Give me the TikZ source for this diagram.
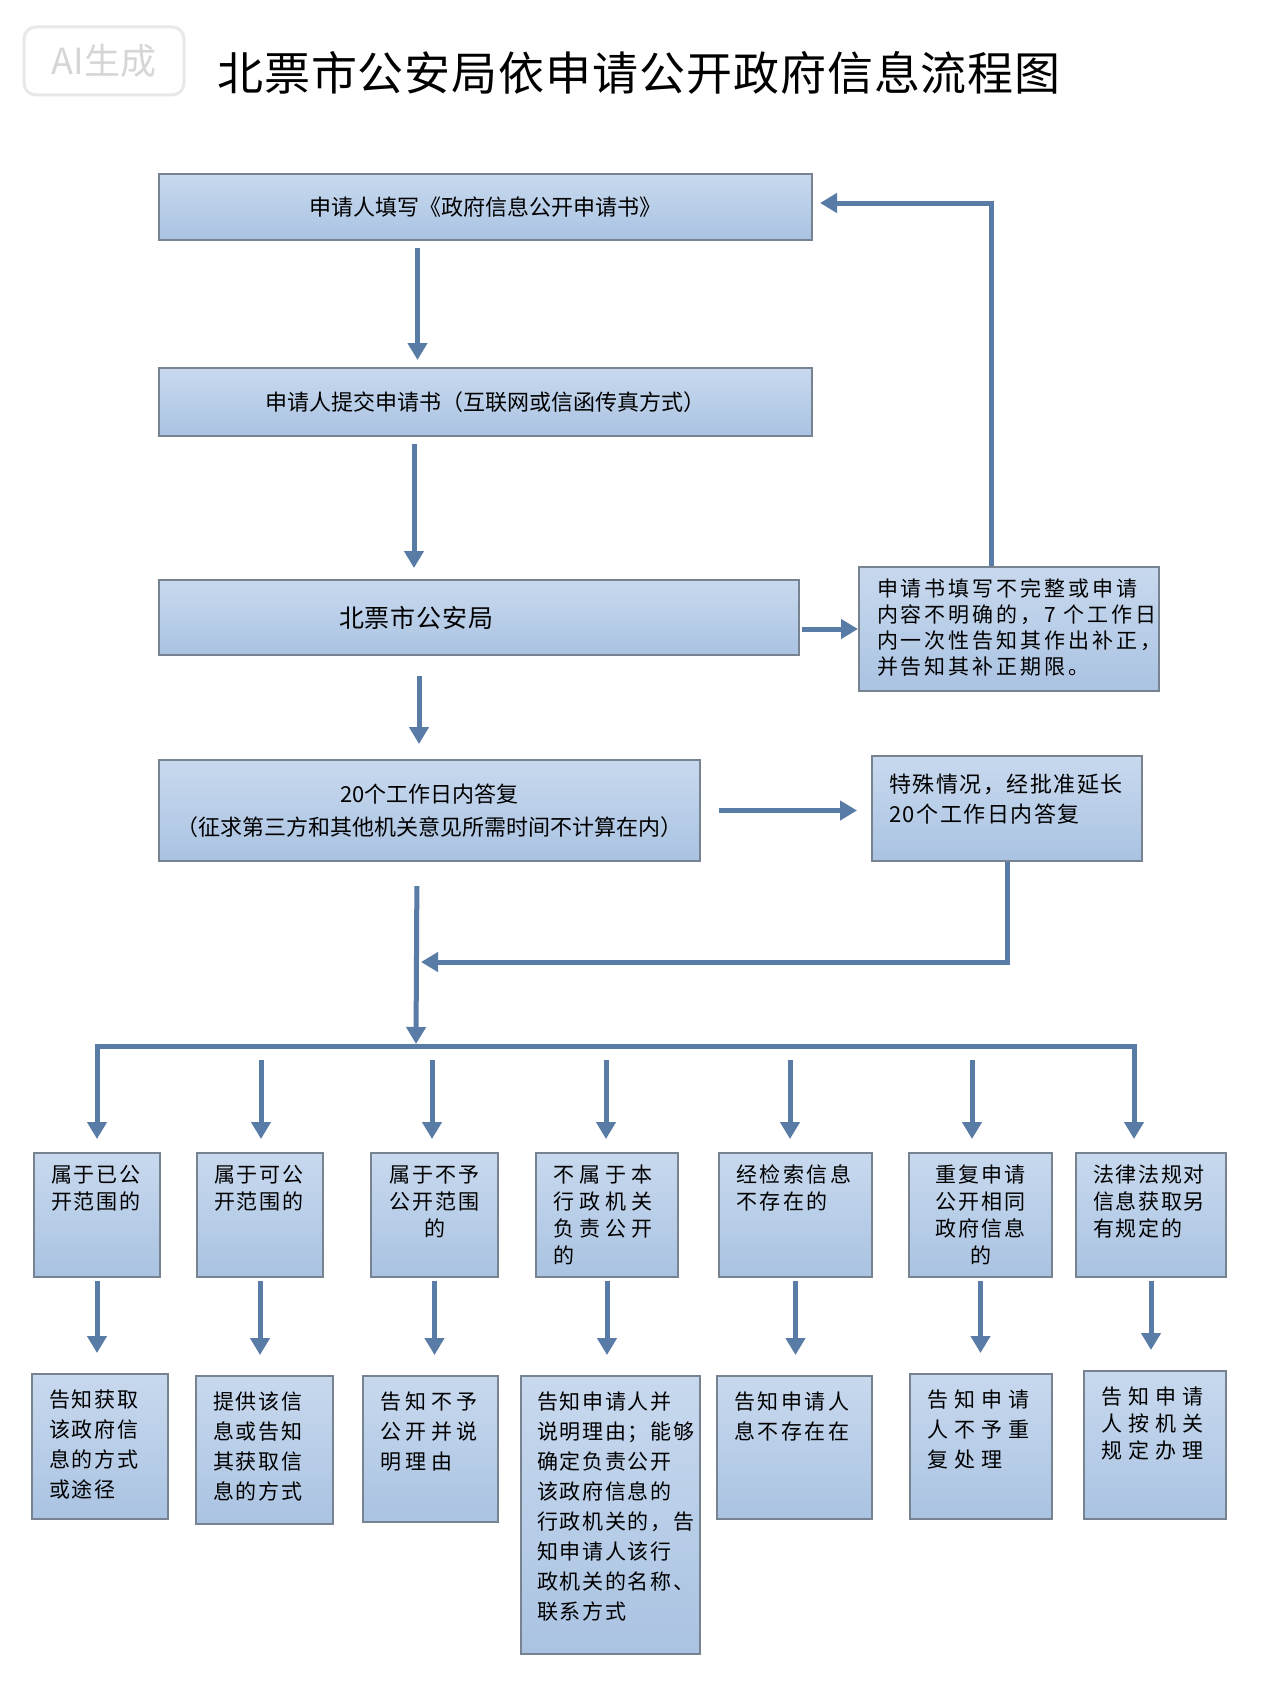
\documentclass[tikz,border=0pt]{standalone}
\usepackage{fontspec}
\setmainfont{Noto Sans CJK SC}
\usetikzlibrary{arrows.meta, positioning, calc}
\definecolor{BoxTop}{RGB}{200,217,238}
\definecolor{BoxBot}{RGB}{170,195,226}
\definecolor{BoxLine}{RGB}{120,131,146}
\definecolor{ArrowBlue}{RGB}{88,124,166}

\begin{document}
\begin{tikzpicture}[x=1pt, y=-1pt,
	box/.style={rectangle, draw=BoxLine, line width=2pt, top color=BoxTop, bottom color=BoxBot, anchor=north west, inner sep=0pt},
	wide/.style={box, align=center, font=\fontsize{22}{33}\selectfont},
	topleft/.style={box, align=left, inner xsep=17pt, inner ysep=#1, text height=17pt},
	midbox/.style={topleft=12pt, font=\fontsize{21}{27}\selectfont\addfontfeature{LetterSpace=#1}}, midbox/.default=8,
	endbox/.style={topleft=16pt, font=\fontsize{21}{30}\selectfont\addfontfeature{LetterSpace=#1}}, endbox/.default=8,
	arr/.style={line width=5pt, ArrowBlue, -{Triangle[width=19pt,length=17pt]}},
	fork/.style={line width=5pt, ArrowBlue, {Triangle[width=19pt,length=17pt]}-{Triangle[width=19pt,length=17pt]}}]
	\path[use as bounding box, fill=white] (0,0) rectangle (1280,1691);

	\node[draw=black!9, line width=3pt, rounded corners=12pt, fill=white, text=black!16, font=\fontsize{36}{40}\selectfont, minimum width=160pt, minimum height=68pt] (mark) at (104,61) {AI生成};
	\node[font=\fontsize{46}{50}\selectfont\addfontfeature{LetterSpace=2}] (title) at (639,73) {北票市公安局依申请公开政府信息流程图};

	% main column
	\node[wide, minimum width=653pt, minimum height=66pt] (apply) at (158,173) {申请人填写《政府信息公开申请书》};
	\node[wide, minimum width=653pt, minimum height=68pt] (submit) at (158,367) {申请人提交申请书（互联网或信函传真方式）};
	\node[box, text width=620pt, inner xsep=10pt, minimum height=75pt, align=left, font=\fontsize{25}{30}\selectfont\addfontfeature{LetterSpace=4}] (bureau) at (158,579) {\hspace*{170pt}北票市公安局};
	\node[topleft=12pt, inner xsep=18pt, text width=264pt, text depth=83pt, font=\fontsize{21}{26}\selectfont\addfontfeature{LetterSpace=14}] (fix) at (858,566) {申请书填写不完整或申请\\内容不明确的，7~个工作日\\内一次性告知其作出补正，\\并告知其补正期限。};
	\node[wide, minimum width=541pt, minimum height=101pt] (reply) at (158,759) {20个工作日内答复\\（征求第三方和其他机关意见所需时间不计算在内）};
	\node[topleft=19pt, text width=236pt, text depth=50pt, font=\fontsize{22}{30}\selectfont\addfontfeature{LetterSpace=7}] (extend) at (871,755) {特殊情况，经批准延长\\20个工作日内答复};

	% cases
	\node[midbox, text width=92pt, text depth=83pt] (c1) at (33,1152) {属于已公\\开范围的};
	\node[midbox, text width=92pt, text depth=83pt] (c2) at (196,1152) {属于可公\\开范围的};
	\node[midbox, text width=93pt, text depth=83pt, align=center] (c3) at (370,1152) {属于不予\\公开范围\\的};
	\node[midbox=24, text width=108pt, text depth=83pt] (c4) at (535,1152) {不属于本\\行政机关\\负责公开\\的};
	\node[midbox=12, text width=119pt, text depth=83pt] (c5) at (718,1152) {经检索信息\\不存在的};
	\node[midbox, text width=109pt, text depth=83pt, align=center] (c6) at (908,1152) {重复申请\\公开相同\\政府信息\\的};
	\node[midbox, text width=116pt, text depth=83pt] (c7) at (1075,1152) {法律法规对\\信息获取另\\有规定的};

	% replies
	\node[endbox, text width=102pt, text depth=96pt] (r1) at (31,1373) {告知获取\\该政府信\\息的方式\\或途径};
	\node[endbox, text width=103pt, text depth=99pt] (r2) at (195,1375) {提供该信\\息或告知\\其获取信\\息的方式};
	\node[endbox=22, text width=101pt, text depth=97pt] (r3) at (362,1375) {告知不予\\公开并说\\明理由};
	\node[endbox, inner xsep=16pt, text width=147pt, text depth=229pt] (r4) at (520,1375) {告知申请人并\\说明理由；能够\\确定负责公开\\该政府信息的\\行政机关的，告\\知申请人该行\\政机关的名称、\\联系方式};
	\node[endbox=12, text width=121pt, text depth=94pt] (r5) at (716,1375) {告知申请人\\息不存在在};
	\node[endbox=29, text width=108pt, text depth=96pt] (r6) at (909,1373) {告知申请\\人不予重\\复处理};
	\node[endbox, text width=108pt, text depth=99pt, font=\fontsize{21}{27}\selectfont\addfontfeature{LetterSpace=29}] (r7) at (1083,1370) {告知申请\\人按机关\\规定办理};

	\coordinate (join) at (421,962);
	\coordinate (hub) at (416,1046);
	\coordinate (barL) at (97,1046);
	\coordinate (barR) at (1134,1046);

	\draw[arr] ([shift={(-68,7)}]apply.south) -- ([shift={(-68,-7)}]submit.north);
	\draw[arr] ([shift={(-71.5,7)}]submit.south) -- ([shift={(-65,-11)}]bureau.north);
	\draw[arr, shorten <=2pt] (bureau.east |- fix.west) -- (fix.west);
	\draw[arr] ([shift={(-18,0)}]fix.north) |- ([shift={(7,-4)}]apply.east);
	\draw[arr] ([shift={(-60,20)}]bureau.south) -- ([shift={(-10.5,-15)}]reply.north);
	\draw[arr, shorten <=18pt, shorten >=14pt] (reply.east) -- (reply.east -| extend.west);
	\draw[arr] (extend.south) |- (join);
	\draw[arr, shorten <=24pt, shorten >=2pt] ([shift={(-12.5,0)}]reply.south) -- (hub);
	\draw[fork, shorten <=13pt, shorten >=13pt] (barL |- c1.north) -- (barL) -- (barR) -- (barR |- c7.north);
	\draw[arr] ([shift={(1,-92)}]c2.north) -- ([shift={(1,-13)}]c2.north);
	\draw[arr] ([shift={(-2.5,-92)}]c3.north) -- ([shift={(-2.5,-13)}]c3.north);
	\draw[arr] ([shift={(-1,-92)}]c4.north) -- ([shift={(-1,-13)}]c4.north);
	\draw[arr] ([shift={(-5.5,-92)}]c5.north) -- ([shift={(-5.5,-13)}]c5.north);
	\draw[arr] ([shift={(-8.5,-92)}]c6.north) -- ([shift={(-8.5,-13)}]c6.north);
	\draw[arr, shorten <=3pt, shorten >=20pt] (c1.south) -- (c1.south |- r1.north);
	\draw[arr, shorten <=3pt, shorten >=20pt] (c2.south) -- (c2.south |- r2.north);
	\draw[arr, shorten <=3pt, shorten >=20pt] (c3.south) -- (c3.south |- r3.north);
	\draw[arr, shorten <=3pt, shorten >=20pt] (c4.south) -- (c4.south |- r4.north);
	\draw[arr, shorten <=3pt, shorten >=20pt] (c5.south) -- (c5.south |- r5.north);
	\draw[arr, shorten <=3pt, shorten >=20pt] (c6.south) -- (c6.south |- r6.north);
	\draw[arr, shorten <=3pt, shorten >=20pt] (c7.south) -- (c7.south |- r7.north);
\end{tikzpicture}
\end{document}
